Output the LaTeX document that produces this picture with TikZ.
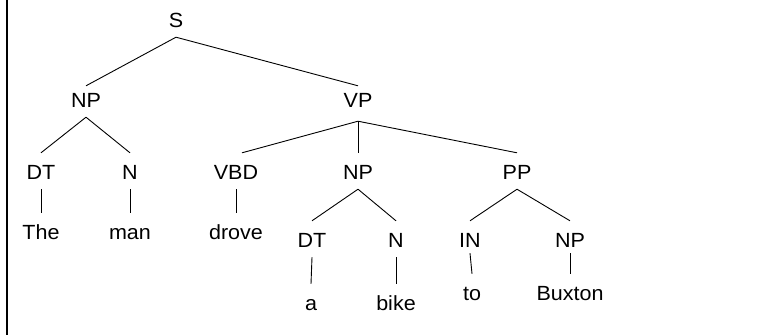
\documentclass[tikz,border=0pt]{standalone}
\usepackage{fontspec}
\setmainfont{Liberation Sans}[FakeStretch=1.05]
\begin{document}
\begin{tikzpicture}[x=1pt,y=-1pt,
  lab/.style={anchor=base,inner sep=0pt,text height=26pt,text depth=10pt,font=\fontsize{20.5}{24}\selectfont},
  top/.style={text height=21pt},
  edge/.style={line width=0.9pt}]
\useasboundingbox (0,0) rectangle (778,335);
\coordinate (bt) at (7,0);
\coordinate (bb) at (7,335);
\draw[line width=1.1pt] (bt) -- (bb);
% nodes
\node[lab] (S) at (176,27) {S};
\node[lab,top] (NP1) at (86,107) {NP};
\node[lab,top,text depth=14pt] (VP) at (358,107) {VP};
\node[lab] (DT1) at (41,179) {DT};
\node[lab] (N1) at (130,179) {N};
\node[lab] (VBD) at (236,179) {VBD};
\node[lab] (NP2) at (358,179) {NP};
\node[lab] (PP) at (517,179) {PP};
\node[lab] (The) at (41,239) {The};
\node[lab] (man) at (130,239) {man};
\node[lab] (drove) at (236,239) {drove};
\node[lab] (DT2) at (312,247) {DT};
\node[lab] (N2) at (396,247) {N};
\node[lab,text depth=6pt] (IN) at (470,247) {IN};
\node[lab,text depth=6pt] (NP3) at (570,247) {NP};
\node[lab] (a) at (311,310) {a};
\node[lab] (bike) at (396,310) {bike};
\node[lab] (to) at (472,300) {to};
\node[lab] (Buxton) at (570,300) {Buxton};
% edges
\draw[edge] (S.south) -- (NP1.north);
\draw[edge] (S.south) -- (VP.north);
\draw[edge] (NP1.south) -- (DT1.north);
\draw[edge] (NP1.south) -- (N1.north);
\draw[edge] (VP.south) -- ([xshift=6pt]VBD.north);
\draw[edge] (VP.south) -- (NP2.north);
\draw[edge] (VP.south) -- (PP.north);
\draw[edge] (DT1.south) -- (The.north);
\draw[edge] (N1.south) -- (man.north);
\draw[edge] (VBD.south) -- (drove.north);
\draw[edge] (NP2.south) -- (DT2.north);
\draw[edge] (NP2.south) -- (N2.north);
\draw[edge] (PP.south) -- (IN.north);
\draw[edge] (PP.south) -- (NP3.north);
\draw[edge] (DT2.south) -- (a.north);
\draw[edge] (N2.south) -- (bike.north);
\draw[edge] (IN.south) -- (to.north);
\draw[edge] (NP3.south) -- (Buxton.north);
\end{tikzpicture}
\end{document}
